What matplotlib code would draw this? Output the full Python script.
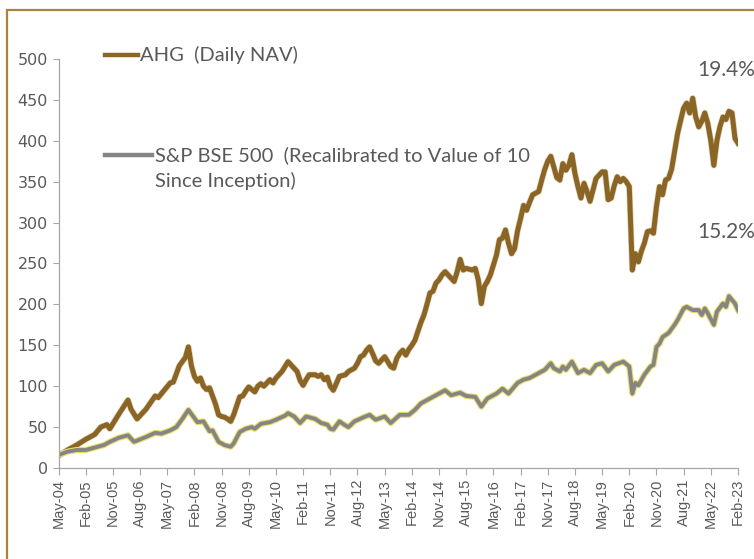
import matplotlib.pyplot as plt
import matplotlib.patheffects as pe
from matplotlib.lines import Line2D
from matplotlib.patches import Rectangle

# months since May-04
ahg_month = [0, 3, 6, 9, 12, 14, 16, 17, 20, 23, 24, 26, 29, 32, 33, 35, 37, 38, 40, 42,
             43, 44, 45, 46, 47, 48, 49, 50, 52, 53, 54, 55, 56, 57, 58, 60, 61, 62, 63, 64,
             65, 66, 67, 68, 70, 71, 72, 74, 75, 76, 77, 78, 79, 80, 81, 82, 83, 85, 86, 87,
             88, 89, 90, 91, 93, 95, 96, 97, 98, 99, 100, 101, 102, 103, 104, 105, 106, 108, 109, 110,
             111, 112, 113, 114, 115, 116, 117, 118, 120, 121, 122, 123, 124, 125, 126, 127, 128, 129, 130, 131,
             132, 133, 134, 135, 136, 137, 138, 139, 140, 141, 142, 143, 145, 146, 147, 148, 149, 150, 151, 152,
             153, 154, 155, 156, 157, 158, 159, 160, 161, 162, 163, 164, 165, 166, 167, 168, 169, 170, 171, 172,
             173, 174, 175, 176, 177, 178, 179, 180, 181, 182, 183, 184, 185, 186, 187, 188, 189, 190, 191, 192,
             193, 194, 195, 196, 197, 198, 199, 200, 201, 202, 203, 204, 205, 206, 207, 208, 209, 210, 211, 212,
             213, 214, 215, 216, 217, 218, 219, 220, 221, 222, 223, 224, 225]
ahg_nav = [15, 22, 28, 35, 41, 50, 53, 48, 66, 83, 72, 60, 72, 88, 86, 95, 104, 105, 125, 135,
           148, 125, 112, 106, 110, 100, 96, 98, 78, 65, 63, 62, 60, 57, 65, 87, 88, 94, 99, 96,
           93, 100, 103, 100, 108, 104, 110, 118, 124, 130, 126, 122, 118, 107, 101, 108, 114, 114, 112, 114,
           108, 111, 100, 95, 112, 114, 118, 120, 122, 128, 136, 138, 144, 148, 140, 131, 128, 136, 130, 124,
           122, 134, 140, 144, 138, 145, 150, 156, 178, 187, 200, 214, 216, 226, 230, 236, 240, 236, 232, 228,
           240, 255, 242, 244, 243, 242, 244, 230, 201, 222, 228, 236, 260, 279, 281, 291, 275, 262, 268, 290,
           305, 321, 315, 325, 334, 336, 338, 352, 365, 375, 381, 368, 355, 352, 372, 364, 370, 383, 360, 344,
           330, 348, 338, 326, 340, 354, 358, 362, 362, 328, 330, 345, 356, 350, 354, 350, 344, 242, 262, 252,
           265, 275, 289, 290, 287, 320, 344, 334, 352, 354, 365, 387, 409, 425, 440, 446, 434, 452, 429, 417,
           424, 434, 421, 400, 370, 400, 417, 429, 426, 436, 434, 403, 397]

bse_month = [0, 3, 6, 9, 12, 15, 17, 20, 23, 25, 29, 32, 34, 37, 39, 41, 43, 45, 46, 48,
             50, 51, 53, 55, 57, 58, 60, 62, 64, 65, 67, 70, 72, 75, 76, 78, 80, 82, 85, 87,
             89, 90, 91, 93, 95, 96, 98, 101, 103, 105, 108, 110, 113, 116, 118, 120, 121, 123, 125, 128,
             130, 133, 135, 138, 140, 142, 145, 147, 149, 152, 154, 156, 158, 161, 163, 164, 166, 167, 168, 170,
             172, 174, 176, 178, 180, 182, 184, 187, 189, 190, 191, 192, 194, 196, 197, 198, 199, 200, 202, 204,
             205, 207, 208, 210, 212, 213, 214, 215, 217, 218, 220, 221, 222, 224, 225]
bse_value = [16, 20, 22, 22, 25, 28, 32, 37, 40, 32, 38, 43, 42, 46, 50, 60, 71, 61, 56, 57,
             45, 46, 32, 28, 26, 30, 44, 48, 50, 48, 54, 56, 59, 64, 67, 63, 55, 63, 60, 55,
             53, 48, 47, 57, 52, 50, 57, 62, 65, 59, 63, 55, 65, 65, 71, 79, 81, 85, 89, 95,
             89, 92, 88, 87, 75, 85, 91, 97, 91, 104, 108, 110, 114, 120, 128, 122, 118, 124, 120, 130,
             116, 120, 116, 126, 128, 118, 126, 130, 124, 91, 104, 101, 114, 124, 126, 148, 152, 160, 165, 175,
             181, 195, 197, 193, 193, 187, 195, 189, 175, 191, 201, 197, 210, 201, 193]

tick_labels = ["May-04", "Feb-05", "Nov-05", "Aug-06", "May-07", "Feb-08", "Nov-08",
               "Aug-09", "May-10", "Feb-11", "Nov-11", "Aug-12", "May-13", "Feb-14",
               "Nov-14", "Aug-15", "May-16", "Feb-17", "Nov-17", "Aug-18", "May-19",
               "Feb-20", "Nov-20", "Aug-21", "May-22", "Feb-23"]
cagr_labels = ["19.4%", "15.2%"]

AHG_COL = "#8a6526"
BSE_COL = "#858585"
TXT = "#595959"

fig = plt.figure(figsize=(7.54, 5.59), dpi=100)
ax = fig.add_axes([0.0776, 0.1628, 0.9012, 0.7317])

ax.plot(ahg_month, ahg_nav, color=AHG_COL, lw=3.6, solid_joinstyle="round",
        path_effects=[pe.withStroke(linewidth=4.6, foreground="#c9b27a", alpha=0.5)])
ax.plot(bse_month, bse_value, color=BSE_COL, lw=2.8, solid_joinstyle="round",
        path_effects=[pe.withStroke(linewidth=4.4, foreground="#e9dc6a")])

ax.set_xlim(0, 225)
ax.set_ylim(0, 500)
ax.set_yticks(range(0, 501, 50))
ax.set_xticks(range(0, 226, 9))
ax.set_xticklabels(tick_labels, rotation=90, fontsize=10.5, color=TXT,
                   family="Liberation Sans")
ax.tick_params(axis="y", labelsize=11.5, labelcolor=TXT, length=4, color="#a6a6a6", width=0.8)
ax.tick_params(axis="x", length=5, color="#a6a6a6", width=0.8, pad=3)
for lab in ax.get_yticklabels():
    lab.set_family("DejaVu Sans")

for s in ["top", "right"]:
    ax.spines[s].set_visible(False)
for s in ["left", "bottom"]:
    ax.spines[s].set_color("#a6a6a6")
    ax.spines[s].set_linewidth(0.9)

# legend drawn by hand, like the source
fig.add_artist(Line2D([0.139, 0.183], [0.901, 0.901], color=AHG_COL, lw=3.2))
fig.text(0.186, 0.901, "AHG  (Daily NAV)", fontsize=14.5, color=TXT,
         family="Lato", va="center")
fig.add_artist(Line2D([0.139, 0.201], [0.7227, 0.7227], color=BSE_COL, lw=3.2))
fig.text(0.205, 0.7227, "S&P BSE 500  (Recalibrated to Value of 10",
         fontsize=14.5, color=TXT, family="Lato", va="center")
fig.text(0.205, 0.6762, "Since Inception)",
         fontsize=14.5, color=TXT, family="Lato", va="center")

fig.text(0.963, 0.874, cagr_labels[0], fontsize=15, color=TXT, family="Lato",
         ha="center", va="center")
fig.text(0.963, 0.585, cagr_labels[1], fontsize=15, color=TXT, family="Lato",
         ha="center", va="center")

fig.add_artist(Rectangle((0.0093, -0.05), 1.2, 1.032, transform=fig.transFigure,
                         fill=False, edgecolor="#a8843f", lw=1.6))

fig.savefig("out.png", dpi=100)
